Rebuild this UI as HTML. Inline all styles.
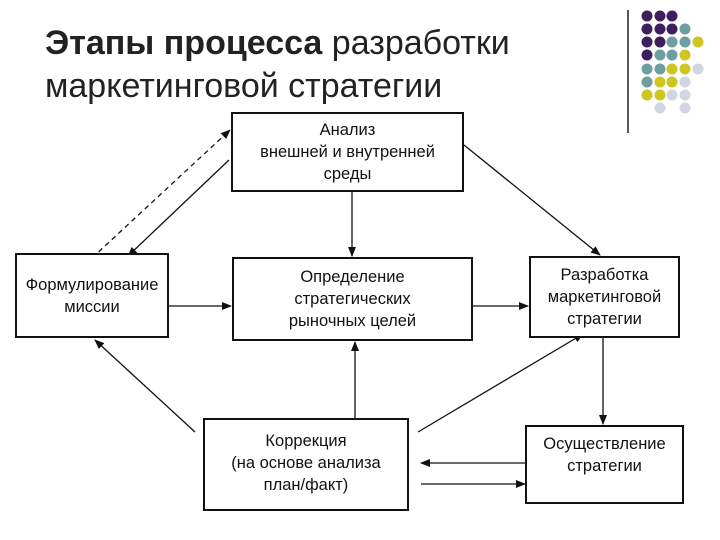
<!DOCTYPE html>
<html><head><meta charset="utf-8"><style>
body{margin:0;width:720px;height:540px;background:#fff;overflow:hidden;font-family:"Liberation Sans",sans-serif}
.t{position:absolute;left:45px;top:22px;font-size:34px;line-height:43px;color:#222}
.b{position:absolute;border:2px solid #111;box-sizing:border-box;display:flex;align-items:center;justify-content:center;text-align:center;font-size:16.5px;line-height:22px;color:#111;background:#fff}
</style></head><body>
<div class="t"><b>Этапы процесса</b> разработки<br>маркетинговой стратегии</div>
<svg width="720" height="540" style="position:absolute;left:0;top:0">
<defs><marker id="a" markerWidth="10" markerHeight="8" refX="9" refY="4" orient="auto" markerUnits="userSpaceOnUse"><path d="M0,0L10,4L0,8z" fill="#111"/></marker></defs>
<line x1="628" y1="10" x2="628" y2="133" stroke="#222" stroke-width="1.5"/>
<g>
<circle cx="647" cy="16" r="5.5" fill="#3f1e5e"/><circle cx="660" cy="16" r="5.5" fill="#3f1e5e"/><circle cx="672" cy="16" r="5.5" fill="#3f1e5e"/>
<circle cx="647" cy="29" r="5.5" fill="#3f1e5e"/><circle cx="660" cy="29" r="5.5" fill="#3f1e5e"/><circle cx="672" cy="29" r="5.5" fill="#3f1e5e"/><circle cx="685" cy="29" r="5.5" fill="#6e9fa0"/>
<circle cx="647" cy="42" r="5.5" fill="#3f1e5e"/><circle cx="660" cy="42" r="5.5" fill="#3f1e5e"/><circle cx="672" cy="42" r="5.5" fill="#6e9fa0"/><circle cx="685" cy="42" r="5.5" fill="#6e9fa0"/><circle cx="698" cy="42" r="5.5" fill="#cdc620"/>
<circle cx="647" cy="55" r="5.5" fill="#3f1e5e"/><circle cx="660" cy="55" r="5.5" fill="#6e9fa0"/><circle cx="672" cy="55" r="5.5" fill="#6e9fa0"/><circle cx="685" cy="55" r="5.5" fill="#cdc620"/>
<circle cx="647" cy="69" r="5.5" fill="#6e9fa0"/><circle cx="660" cy="69" r="5.5" fill="#6e9fa0"/><circle cx="672" cy="69" r="5.5" fill="#cdc620"/><circle cx="685" cy="69" r="5.5" fill="#cdc620"/><circle cx="698" cy="69" r="5.5" fill="#d3d5e3"/>
<circle cx="647" cy="82" r="5.5" fill="#6e9fa0"/><circle cx="660" cy="82" r="5.5" fill="#cdc620"/><circle cx="672" cy="82" r="5.5" fill="#cdc620"/><circle cx="685" cy="82" r="5.5" fill="#d3d5e3"/>
<circle cx="647" cy="95" r="5.5" fill="#cdc620"/><circle cx="660" cy="95" r="5.5" fill="#cdc620"/><circle cx="672" cy="95" r="5.5" fill="#d3d5e3"/><circle cx="685" cy="95" r="5.5" fill="#d3d5e3"/>
<circle cx="660" cy="108" r="5.5" fill="#d3d5e3"/><circle cx="685" cy="108" r="5.5" fill="#d3d5e3"/>
</g>
<g stroke="#111" stroke-width="1.3" fill="none" marker-end="url(#a)">
<line x1="352" y1="192" x2="352" y2="256"/>
<line x1="169" y1="306" x2="231" y2="306"/>
<line x1="473" y1="306" x2="528" y2="306"/>
<line x1="464" y1="145" x2="600" y2="255"/>
<line x1="92" y1="258" x2="230" y2="130" stroke-dasharray="5,4"/>
<line x1="229" y1="160" x2="128" y2="256"/>
<line x1="355" y1="418" x2="355" y2="342"/>
<line x1="195" y1="432" x2="95" y2="340"/>
<line x1="418" y1="432" x2="583" y2="334"/>
<line x1="603" y1="338" x2="603" y2="424"/>
<line x1="537" y1="463" x2="421" y2="463"/>
<line x1="421" y1="484" x2="525" y2="484"/>
</g>
</svg>
<div class="b" style="left:231px;top:112px;width:233px;height:80px">Анализ<br>внешней и внутренней<br>среды</div>
<div class="b" style="left:15px;top:253px;width:154px;height:85px">Формулирование<br>миссии</div>
<div class="b" style="left:232px;top:257px;width:241px;height:84px">Определение<br>стратегических<br>рыночных целей</div>
<div class="b" style="left:529px;top:256px;width:151px;height:82px">Разработка<br>маркетинговой<br>стратегии</div>
<div class="b" style="left:203px;top:418px;width:206px;height:93px;align-items:flex-start;padding-top:10px">Коррекция<br>(на основе анализа<br>план/факт)</div>
<div class="b" style="left:525px;top:425px;width:159px;height:79px;align-items:flex-start;padding-top:6px">Осуществление<br>стратегии</div>
</body></html>
